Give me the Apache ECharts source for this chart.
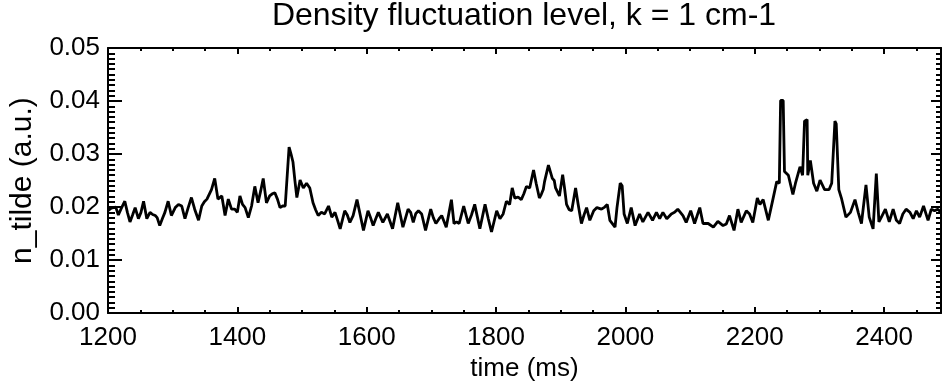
<!DOCTYPE html>
<html>
<head>
<meta charset="utf-8">
<script src="https://cdn.jsdelivr.net/npm/echarts@6/dist/echarts.min.js"></script>
<style>
html,body{margin:0;padding:0;background:#fff;}
#chart{width:944px;height:387px;}
</style>
</head>
<body>
<div id="chart"></div>
<script>
const titleText = 'Density fluctuation level, k = 1 cm-1';
const xAxisName = 'time (ms)';
const yAxisName = 'n_tilde (a.u.)';
const xTickValues = [1200, 1400, 1600, 1800, 2000, 2200, 2400];
const yTickValues = [0.00, 0.01, 0.02, 0.03, 0.04, 0.05];

const times = [
1200,1205,1212,1216,1220,1226,1230,1234,1238,1242,1247,1251,1255,1260,1265,1269,1273,1276,1280,1284,
1288,1293,1298,1304,1309,1314,1319,1324,1329,1334,1340,1345,1349,1353,1360,1365,1370,1376,1381,1386,
1391,1396,1400,1404,1408,1412,1417,1422,1427,1432,1436,1440,1445,1450,1454,1458,1462,1466,1470,1474,
1480,1483,1486,1489,1492,1497,1502,1507,1512,1517,1521,1525,1530,1535,1541,1546,1551,1555,1559,1566,
1570,1574,1579,1585,1590,1595,1602,1606,1610,1614,1618,1625,1632,1640,1648,1652,1656,1664,1668,1672,
1676,1680,1685,1691,1699,1703,1707,1712,1716,1723,1731,1735,1739,1743,1750,1757,1762,1767,1771,1775,
1783,1788,1793,1801,1806,1811,1816,1821,1825,1829,1834,1839,1843,1847,1852,1858,1862,1867,1870,1873,
1875,1881,1884,1887,1890,1892,1898,1903,1906,1909,1913,1917,1923,1927,1932,1936,1940,1945,1951,1956,
1963,1968,1972,1976,1984,1987,1992,1995,1998,2003,2009,2015,2022,2027,2035,2042,2048,2053,2058,2064,
2071,2076,2081,2085,2089,2094,2101,2107,2115,2120,2128,2136,2143,2146,2151,2156,2161,2168,2174,2179,
2187,2192,2197,2204,2208,2213,2221,2228,2234,2238,2240,2244,2246,2252,2255,2259,2263,2270,2274,2277,
2281,2282,2286,2291,2296,2301,2308,2315,2319,2324,2326,2330,2334,2341,2348,2355,2360,2365,2372,2377,
2383,2388,2392,2397,2402,2408,2414,2419,2424,2429,2434,2440,2445,2450,2455,2461,2468,2473,2478,2483,
2488
];

const values = [
0.0193,0.0198,0.0200,0.0185,0.0196,0.0211,0.0190,0.0172,0.0185,0.0199,0.0178,0.0190,0.0211,0.0178,0.0190,0.0186,0.0184,0.0180,0.0165,0.0178,
0.0190,0.0211,0.0184,0.0199,0.0205,0.0202,0.0178,0.0199,0.0218,0.0196,0.0175,0.0202,0.0210,0.0215,0.0233,0.0254,0.0215,0.0221,0.0184,0.0215,
0.0196,0.0196,0.0190,0.0221,0.0205,0.0199,0.0180,0.0202,0.0239,0.0208,0.0230,0.0254,0.0208,0.0221,0.0225,0.0227,0.0215,0.0199,0.0202,0.0202,
0.0313,0.0300,0.0285,0.0250,0.0218,0.0251,0.0236,0.0245,0.0236,0.0208,0.0195,0.0184,0.0190,0.0187,0.0202,0.0181,0.0190,0.0175,0.0159,0.0193,
0.0185,0.0171,0.0184,0.0214,0.0185,0.0156,0.0193,0.0180,0.0165,0.0178,0.0190,0.0171,0.0187,0.0159,0.0208,0.0185,0.0162,0.0196,0.0190,0.0171,
0.0188,0.0193,0.0187,0.0156,0.0196,0.0180,0.0169,0.0178,0.0184,0.0162,0.0214,0.0169,0.0172,0.0169,0.0202,0.0169,0.0185,0.0205,0.0182,0.0159,
0.0205,0.0178,0.0153,0.0193,0.0178,0.0187,0.0211,0.0205,0.0236,0.0217,0.0219,0.0214,0.0225,0.0239,0.0236,0.0270,0.0245,0.0217,0.0224,0.0233,
0.0248,0.0279,0.0276,0.0254,0.0250,0.0236,0.0221,0.0261,0.0235,0.0205,0.0195,0.0193,0.0236,0.0205,0.0169,0.0185,0.0199,0.0175,0.0193,0.0199,
0.0196,0.0200,0.0205,0.0175,0.0162,0.0199,0.0245,0.0240,0.0187,0.0169,0.0199,0.0165,0.0187,0.0172,0.0190,0.0175,0.0190,0.0178,0.0190,0.0178,
0.0187,0.0190,0.0196,0.0190,0.0184,0.0171,0.0193,0.0169,0.0199,0.0169,0.0169,0.0162,0.0173,0.0175,0.0165,0.0168,0.0184,0.0156,0.0196,0.0171,
0.0193,0.0187,0.0171,0.0217,0.0205,0.0214,0.0175,0.0214,0.0248,0.0245,0.0401,0.0401,0.0267,0.0260,0.0257,0.0224,0.0245,0.0276,0.0260,0.0362,
0.0365,0.0260,0.0288,0.0245,0.0230,0.0251,0.0233,0.0233,0.0245,0.0362,0.0357,0.0233,0.0217,0.0181,0.0190,0.0214,0.0190,0.0169,0.0242,0.0181,
0.0159,0.0263,0.0172,0.0184,0.0196,0.0172,0.0196,0.0175,0.0169,0.0187,0.0196,0.0190,0.0178,0.0193,0.0181,0.0202,0.0175,0.0196,0.0193,0.0196,
0.0190
];

const data = times.map((t, i) => [t, values[i]]);
const FONT = 'Liberation Sans, Arial, Helvetica, sans-serif';
const black = '#000';

const chart = echarts.init(document.getElementById('chart'), null, {renderer: 'canvas'});
const xMin = xTickValues[0], xMax = 2488, xInt = xTickValues[1] - xTickValues[0];
const yMin = yTickValues[0], yMax = yTickValues[yTickValues.length - 1], yInt = 0.01;

const baseX = {
  type: 'value', min: xMin, max: xMax, interval: xInt,
  axisLine: {show: true, onZero: false, lineStyle: {color: black, width: 2}},
  splitLine: {show: false}
};
const baseY = {
  type: 'value', min: yMin, max: yMax, interval: yInt,
  axisLine: {show: true, onZero: false, lineStyle: {color: black, width: 2}},
  splitLine: {show: false}
};

chart.setOption({
  animation: false,
  backgroundColor: '#fff',
  title: {
    text: titleText, left: 519, top: -5, textAlign: 'center',
    textStyle: {fontFamily: FONT, fontSize: 32, fontWeight: 'normal', color: black}
  },
  grid: {left: 107, right: 3, top: 48, bottom: 67, containLabel: false},
  xAxis: [
    Object.assign({}, baseX, {
      position: 'bottom',
      axisTick: {show: true, inside: true, length: 6, lineStyle: {color: black, width: 2}},
      minorTick: {show: true, splitNumber: 4, length: 3, lineStyle: {color: black, width: 2}},
      axisLabel: {show: true, color: black, fontFamily: FONT, fontSize: 26, margin: 12, showMaxLabel: false,
        formatter: v => (xTickValues.indexOf(v) >= 0 ? String(v) : '')},
      name: xAxisName, nameLocation: 'middle', nameGap: 40,
      nameTextStyle: {color: black, fontFamily: FONT, fontSize: 26}
    }),
    Object.assign({}, baseX, {
      position: 'top',
      axisTick: {show: true, inside: true, length: 6, lineStyle: {color: black, width: 2}},
      minorTick: {show: true, splitNumber: 4, length: 3, lineStyle: {color: black, width: 2}},
      axisLabel: {show: false}
    })
  ],
  yAxis: [
    Object.assign({}, baseY, {
      position: 'left',
      axisTick: {show: true, inside: true, length: 14, lineStyle: {color: black, width: 2}},
      minorTick: {show: true, splitNumber: 10, length: 7, lineStyle: {color: black, width: 2}},
      axisLabel: {show: true, color: black, fontFamily: FONT, fontSize: 26, margin: 8,
        padding: [0, 0, 12, 0],
        formatter: v => v.toFixed(2)},
      name: yAxisName, nameLocation: 'middle', nameGap: 70,
      nameTextStyle: {color: black, fontFamily: FONT, fontSize: 30}
    }),
    Object.assign({}, baseY, {
      position: 'right',
      axisTick: {show: true, inside: true, length: 10, lineStyle: {color: black, width: 2}},
      minorTick: {show: true, splitNumber: 10, length: 5, lineStyle: {color: black, width: 2}},
      axisLabel: {show: false}
    })
  ],
  series: [{
    type: 'line', xAxisIndex: 0, yAxisIndex: 0, data: data,
    showSymbol: false, symbol: 'none', clip: true,
    lineStyle: {color: black, width: 2.8}
  }]
});
</script>
</body>
</html>
